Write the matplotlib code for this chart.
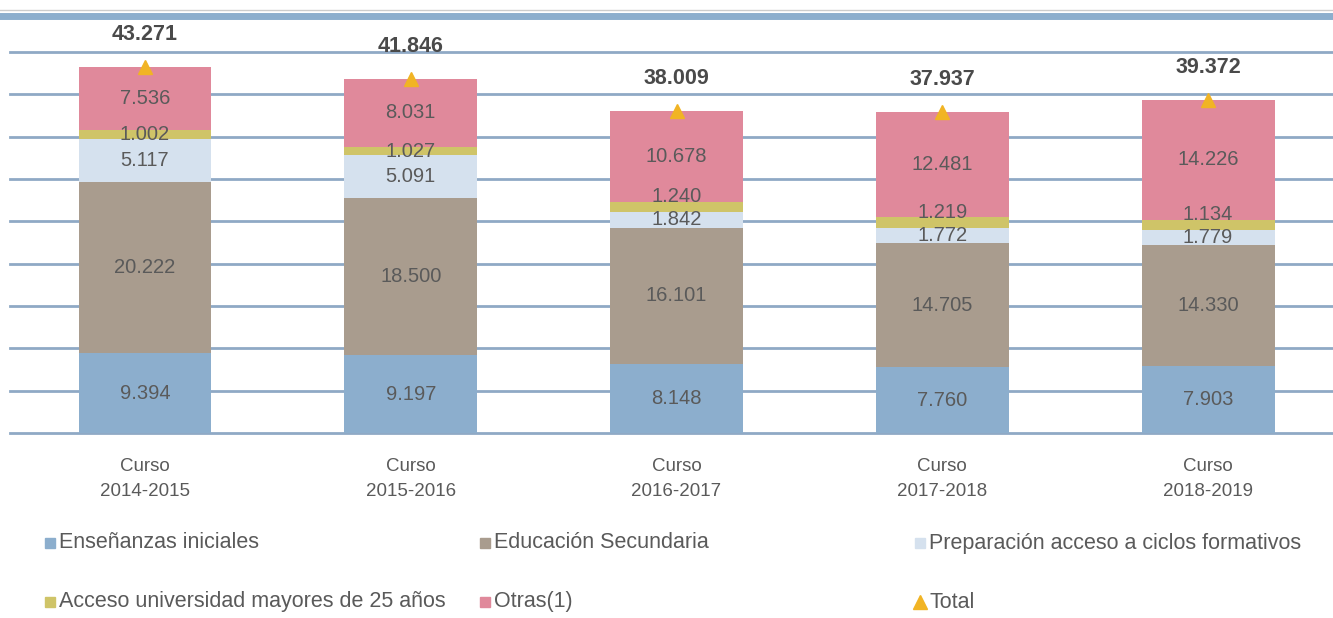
import matplotlib
matplotlib.use("Agg")
import matplotlib.pyplot as plt
from matplotlib.patches import Rectangle
from matplotlib.lines import Line2D

cursos = ["Curso\n2014-2015", "Curso\n2015-2016", "Curso\n2016-2017", "Curso\n2017-2018", "Curso\n2018-2019"]
iniciales = [9394, 9197, 8148, 7760, 7903]
secundaria = [20222, 18500, 16101, 14705, 14330]
preparacion = [5117, 5091, 1842, 1772, 1779]
acceso = [1002, 1027, 1240, 1219, 1134]
otras = [7536, 8031, 10678, 12481, 14226]
total = [43271, 41846, 38009, 37937, 39372]

series = [
    ("Enseñanzas iniciales", iniciales, "#8CAECD"),
    ("Educación Secundaria", secundaria, "#A99C8E"),
    ("Preparación acceso a ciclos formativos", preparacion, "#D5E1EE"),
    ("Acceso universidad mayores de 25 años", acceso, "#CFC468"),
    ("Otras(1)", otras, "#E0899B"),
]

plt.rcParams['font.family'] = ['Liberation Sans', 'DejaVu Sans']
txt_color = "#5a5a5a"

W, H = 1333, 618
fig = plt.figure(figsize=(W / 100, H / 100), dpi=100)
ax = fig.add_axes([10 / W, 1 - 433 / H, (W - 10) / W, (433 - 52) / H])

x = list(range(len(cursos)))
bottom = [0] * len(x)
for name, vals, col in series:
    ax.bar(x, vals, width=0.5, bottom=bottom, color=col, zorder=2)
    for i, v in enumerate(vals):
        # thin "acceso" labels sit a little higher in the last three bars
        dy = 10 if (vals is acceso and i >= 2) else 0
        ax.annotate(f"{v:,}".replace(",", "."), (i, bottom[i] + v / 2),
                    xytext=(0, dy), textcoords="offset pixels",
                    ha="center", va="center", fontsize=14.5, color=txt_color, zorder=4)
    bottom = [b + v for b, v in zip(bottom, vals)]

ax.plot(x, total, linestyle="none", marker="^", color="#F1B424", markersize=10, zorder=5)
for i, t in enumerate(total):
    ax.text(i, t + 2600, f"{t:,}".replace(",", "."), ha="center", va="bottom",
            fontsize=15.5, fontweight="bold", color="#4a4a4a", zorder=5)

for yv in range(0, 45001, 5000):
    ax.axhline(yv, color="#8FA9C5", linewidth=2, zorder=1, clip_on=False)

ax.set_xlim(-0.508, 4.47)
ax.set_ylim(0, 45000)
ax.set_xticks(x)
ax.set_xticklabels(cursos, fontsize=13.5, color=txt_color, linespacing=1.6)
ax.tick_params(axis="x", length=0, pad=18)
ax.set_yticks([])
for s in ax.spines.values():
    s.set_visible(False)

# decorative header lines
fig.add_artist(Line2D([0, 1], [1 - 10 / H, 1 - 10 / H], color="#cccccc", linewidth=1))
fig.add_artist(Line2D([0, 1], [1 - 16 / H, 1 - 16 / H], color="#8CAECD", linewidth=5))

# legend
leg_items = [(n, c) for n, _, c in series]
pos = [(45, 543), (480, 543), (915, 543), (45, 602), (480, 602)]
for (name, col), (px, py) in zip(leg_items, pos):
    fig.add_artist(Rectangle((px / W, 1 - (py + 5) / H), 10 / W, 10 / H, color=col,
                             transform=fig.transFigure))
    fig.text((px + 14) / W, 1 - py / H, name, fontsize=15.5, color=txt_color, va="center")
fig.add_artist(Line2D([920 / W], [1 - 602 / H], marker="^", color="#F1B424", markersize=10,
                      linestyle="none"))
fig.text(929 / W, 1 - 602 / H, "Total", fontsize=15.5, color=txt_color, va="center")

fig.savefig("out.png", dpi=100, facecolor="white")
